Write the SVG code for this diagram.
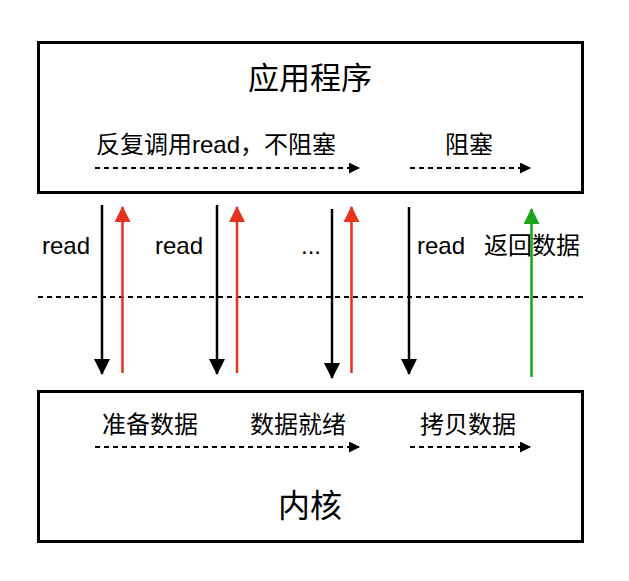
<svg xmlns="http://www.w3.org/2000/svg" width="629" height="581" viewBox="0 0 629 581">
<style>
.box{fill:#fff;stroke:#000;stroke-width:3}
.t{font-family:"Liberation Sans","Noto Sans CJK SC",sans-serif;fill:#000}
.dash{stroke:#000;stroke-width:2;stroke-dasharray:5 4;fill:none}
.blk{stroke:#000;stroke-width:2.5;fill:none}
.red{stroke:#e8321e;stroke-width:2.5;fill:none}
.grn{stroke:#1aa51a;stroke-width:2.5;fill:none}
</style>
<defs>
<marker id="ad" markerWidth="11" markerHeight="11" refX="10" refY="5.5" orient="auto" markerUnits="userSpaceOnUse"><path d="M0,0 L11,5.5 L0,11 Z" fill="#000"/></marker>
<marker id="ab" markerWidth="16" markerHeight="16" refX="15" refY="8" orient="auto" markerUnits="userSpaceOnUse"><path d="M0,0 L16,8 L0,16 Z" fill="#000"/></marker>
<marker id="ar" markerWidth="16" markerHeight="16" refX="15" refY="8" orient="auto" markerUnits="userSpaceOnUse"><path d="M0,0 L16,8 L0,16 Z" fill="#e8321e"/></marker>
<marker id="ag" markerWidth="16" markerHeight="16" refX="15" refY="8" orient="auto" markerUnits="userSpaceOnUse"><path d="M0,0 L16,8 L0,16 Z" fill="#1aa51a"/></marker>
</defs>
<rect width="629" height="581" fill="#fff"/>
<g id="app">
<rect class="box" x="38.5" y="42.5" width="544" height="150"/>
<text class="t" x="310" y="89" font-size="31" text-anchor="middle">应用程序</text>
<text class="t" x="216" y="153" font-size="24" text-anchor="middle">反复调用read，不阻塞</text>
<text class="t" x="469" y="153" font-size="24" text-anchor="middle">阻塞</text>
</g>
<g id="kernel">
<rect class="box" x="38.5" y="391.5" width="544" height="150"/>
<text class="t" x="150" y="433" font-size="24" text-anchor="middle">准备数据</text>
<text class="t" x="298" y="433" font-size="24" text-anchor="middle">数据就绪</text>
<text class="t" x="468" y="433" font-size="24" text-anchor="middle">拷贝数据</text>
<text class="t" x="310" y="517" font-size="32" text-anchor="middle">内核</text>
</g>
<g id="labels">
<text class="t" x="66" y="254" font-size="24" text-anchor="middle">read</text>
<text class="t" x="179" y="254" font-size="24" text-anchor="middle">read</text>
<text class="t" x="311" y="254" font-size="24" text-anchor="middle">...</text>
<text class="t" x="441" y="254" font-size="24" text-anchor="middle">read</text>
<text class="t" x="532" y="254" font-size="24" text-anchor="middle">返回数据</text>
</g>
<g id="connectors">
<line class="dash" x1="95" y1="168" x2="359" y2="168" marker-end="url(#ad)"/>
<line class="dash" x1="410" y1="168" x2="530" y2="168" marker-end="url(#ad)"/>
<line class="dash" x1="95" y1="447" x2="359" y2="447" marker-end="url(#ad)"/>
<line class="dash" x1="410" y1="447" x2="530" y2="447" marker-end="url(#ad)"/>
<line class="dash" x1="38" y1="297" x2="583" y2="297"/>
<line class="blk" x1="102" y1="205" x2="102" y2="374" marker-end="url(#ab)"/>
<line class="red" x1="122.5" y1="373" x2="122.5" y2="207" marker-end="url(#ar)"/>
<line class="blk" x1="217" y1="205" x2="217" y2="374" marker-end="url(#ab)"/>
<line class="red" x1="237" y1="373" x2="237" y2="207" marker-end="url(#ar)"/>
<line class="blk" x1="332" y1="209" x2="332" y2="378" marker-end="url(#ab)"/>
<line class="red" x1="351.5" y1="373" x2="351.5" y2="207" marker-end="url(#ar)"/>
<line class="blk" x1="409" y1="207" x2="409" y2="374" marker-end="url(#ab)"/>
<line class="grn" x1="531.5" y1="377" x2="531.5" y2="209" marker-end="url(#ag)"/>
</g>
</svg>
